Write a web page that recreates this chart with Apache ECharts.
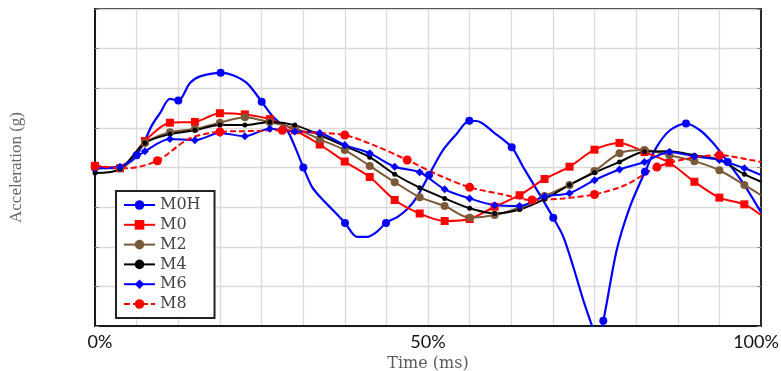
<!DOCTYPE html>
<html>
<head>
<meta charset="utf-8">
<script src="https://cdn.jsdelivr.net/npm/echarts@6/dist/echarts.min.js"></script>
<style>
html,body{margin:0;padding:0;background:#fff;}
#chart{width:781px;height:371px;}
</style>
</head>
<body>
<div id="chart"></div>
<script>
// ---- data (time in % of event, acceleration in g) ----
var seriesNames = ['M0H', 'M0', 'M2', 'M4', 'M6', 'M8'];
var xTickLabels = ['0%', '50%', '100%'];

var tM0H = [0, 2.55, 5.26, 6.25, 7.51, 8.56, 9.76, 11.26, 12.51, 14.26, 15.77, 18.87, 20.72, 22.82, 25.03, 26.73, 28.83, 30.03, 31.28, 32.58, 33.78, 35.74, 37.54, 39.34, 40.84, 42.34, 43.69, 45.50, 47.00, 48.35, 50.15, 52.25, 54.35, 56.20, 57.81, 59.76, 62.57, 64.26, 66.37, 68.81, 70.32, 71.82, 73.32, 74.58, 75.38, 76.32, 78.33, 80.33, 82.58, 84.34, 86.34, 88.74, 90.84, 92.84, 95.00, 97.34, 100];
var vM0H = [0.01, 0.00, 0.14, 0.31, 0.69, 1.07, 1.37, 1.73, 1.69, 2.13, 2.30, 2.39, 2.33, 2.13, 1.66, 1.28, 0.94, 0.52, 0.00, -0.49, -0.74, -1.08, -1.40, -1.75, -1.75, -1.62, -1.40, -1.24, -1.03, -0.74, -0.19, 0.44, 0.86, 1.18, 1.15, 0.90, 0.51, 0.02, -0.57, -1.27, -1.75, -2.51, -3.35, -3.98, -4.41, -3.87, -2.09, -0.99, -0.11, 0.52, 0.94, 1.11, 0.94, 0.61, 0.14, -0.40, -1.13];
var markM0H = [1,0,0,1,0,0,0,0,1,0,0,1,0,0,1,0,0,0,1,0,0,0,1,0,0,0,1,0,0,0,1,0,0,1,0,0,1,0,0,1,0,0,0,0,0,1,0,0,1,0,0,1,0,0,1,0,0];

var tA = [0, 3.75, 7.5, 11.25, 15, 18.75, 22.5, 26.25, 30, 33.75, 37.5, 41.25, 45, 48.75, 52.5, 56.25, 60, 63.75, 67.5, 71.25, 75, 78.75, 82.5, 86.25, 90, 93.75, 97.5, 100];
var vM0 = [0.04, -0.02, 0.67, 1.13, 1.15, 1.37, 1.34, 1.22, 0.94, 0.58, 0.15, -0.24, -0.82, -1.16, -1.35, -1.30, -0.99, -0.70, -0.29, 0.02, 0.45, 0.62, 0.39, 0.12, -0.36, -0.76, -0.93, -1.20];
var vM2 = [-0.02, -0.02, 0.62, 0.89, 0.97, 1.13, 1.27, 1.14, 0.99, 0.71, 0.44, 0.04, -0.37, -0.75, -0.97, -1.27, -1.20, -1.01, -0.72, -0.44, -0.09, 0.36, 0.44, 0.31, 0.16, -0.07, -0.44, -0.70];
var vM4 = [-0.14, -0.04, 0.62, 0.84, 0.94, 1.07, 1.07, 1.15, 1.07, 0.82, 0.54, 0.26, -0.17, -0.51, -0.78, -1.03, -1.16, -1.06, -0.80, -0.44, -0.13, 0.14, 0.40, 0.41, 0.31, 0.19, -0.17, -0.36];
var vM6 = [-0.02, 0.02, 0.41, 0.72, 0.69, 0.87, 0.79, 0.98, 0.91, 0.87, 0.57, 0.36, 0.02, -0.12, -0.55, -0.78, -0.95, -0.97, -0.73, -0.65, -0.32, -0.05, 0.14, 0.39, 0.28, 0.19, -0.02, -0.19];

var tB = [0, 4.6875, 9.375, 14.0625, 18.75, 23.4375, 28.125, 32.8125, 37.5, 42.1875, 46.875, 51.5625, 56.25, 60.9375, 65.625, 70.3125, 75, 79.6875, 84.375, 89.0625, 93.75, 98.4375, 100];
var vM8 = [0.04, -0.02, 0.17, 0.72, 0.90, 0.92, 0.94, 0.88, 0.82, 0.54, 0.19, -0.19, -0.50, -0.67, -0.82, -0.78, -0.68, -0.44, 0.01, 0.23, 0.31, 0.19, 0.14];

// ---- build ----
function build(T, V, isMark) {
  return T.map(function (t, i) {
    var item = { value: [t, V[i]] };
    if (!isMark(i)) item.symbol = 'none';
    return item;
  });
}
var lastA = tA.length - 1, lastB = tB.length - 1;
var dM0H = build(tM0H, vM0H, function (i) { return markM0H[i] === 1; });
var dM0 = build(tA, vM0, function (i) { return i < lastA; });
var dM2 = build(tA, vM2, function (i) { return i < lastA; });
var dM4 = build(tA, vM4, function (i) { return i < lastA; });
var dM6 = build(tA, vM6, function (i) { return i < lastA; });
var dM8 = build(tB, vM8, function (i) { return i < lastB && i % 2 === 0; });

function line(name, data, color, symbol, size, width, dash, smooth) {
  return {
    name: name, type: 'line', data: data,
    symbol: symbol, symbolSize: size, smooth: smooth,
    itemStyle: { color: color },
    lineStyle: { color: color, width: width, type: dash || 'solid' },
    emphasis: { disabled: true }
  };
}

var chart = echarts.init(document.getElementById('chart'), null, { renderer: 'canvas' });
var gridColor = '#dadada';
var tickFont = { fontFamily: 'Lato', fontSize: 18, color: '#111' };
chart.setOption({
  animation: false,
  backgroundColor: '#fff',
  grid: { left: 95, right: 20, top: 9, bottom: 45, show: true, borderColor: '#2a2a2a', borderWidth: 2, containLabel: false, outerBoundsMode: 'none' },
  xAxis: {
    type: 'value', min: 0, max: 100, interval: 6.25,
    name: 'Time (ms)', nameLocation: 'middle', nameGap: 29,
    nameTextStyle: { fontFamily: 'DejaVu Serif', fontSize: 16, color: '#5a5a5a' },
    axisLine: { show: true, onZero: false, lineStyle: { color: '#1a1a1a', width: 2 } },
    axisTick: { show: false },
    axisLabel: {
      margin: 7, fontFamily: 'Lato', fontSize: 18, color: '#111',
      rich: {
        first: Object.assign({ padding: [0, 0, 0, 10] }, tickFont),
        mid: Object.assign({}, tickFont),
        last: Object.assign({ padding: [0, 10, 0, 0] }, tickFont)
      },
      formatter: function (v) {
        if (v === 0) return '{first|' + xTickLabels[0] + '}';
        if (v === 50) return '{mid|' + xTickLabels[1] + '}';
        if (v === 100) return '{last|' + xTickLabels[2] + '}';
        return '';
      }
    },
    splitLine: { show: true, lineStyle: { color: gridColor, width: 1.3 } }
  },
  yAxis: [{
    type: 'value', min: -4, max: 4, interval: 1,
    name: 'Acceleration (g)', nameLocation: 'middle', nameGap: 70,
    nameTextStyle: { fontFamily: 'Liberation Serif', fontSize: 17, color: '#666' },
    axisLine: { show: true, onZero: false, lineStyle: { color: '#1a1a1a', width: 2 } },
    axisTick: { show: true, inside: true, length: 4, lineStyle: { color: '#888' } },
    axisLabel: { show: false },
    splitLine: { show: true, lineStyle: { color: gridColor, width: 1.3 } }
  }, {
    type: 'value', min: -4, max: 4, interval: 1, position: 'right',
    axisLine: { show: true, onZero: false, lineStyle: { color: '#2a2a2a', width: 2 } },
    axisTick: { show: true, inside: true, length: 4, lineStyle: { color: '#888' } },
    axisLabel: { show: false },
    splitLine: { show: false }
  }],
  legend: {
    orient: 'vertical', left: 116, top: 191,
    padding: [6, 14, 6, 7],
    itemWidth: 31, itemHeight: 12, itemGap: 3.8,
    borderColor: '#222', borderWidth: 2, backgroundColor: '#fff',
    textStyle: { fontFamily: 'DejaVu Serif', fontSize: 16, color: '#444', lineHeight: 14 },
    data: seriesNames
  },
  series: [
    line(seriesNames[0], dM0H, '#0000ff', 'circle', 8, 2.2, null, 0.3),
    line(seriesNames[1], dM0, '#ff0000', 'rect', 8, 2, null, 0.3),
    line(seriesNames[2], dM2, '#7b5a3a', 'circle', 8, 2, null, 0.3),
    line(seriesNames[3], dM4, '#000000', 'circle', 5, 2, null, 0.3),
    line(seriesNames[4], dM6, '#0000ff', 'diamond', 8, 2, null, 0.3),
    line(seriesNames[5], dM8, '#ff0000', 'circle', 9, 2, [6, 3], 0.3)
  ]
});
</script>
</body>
</html>
